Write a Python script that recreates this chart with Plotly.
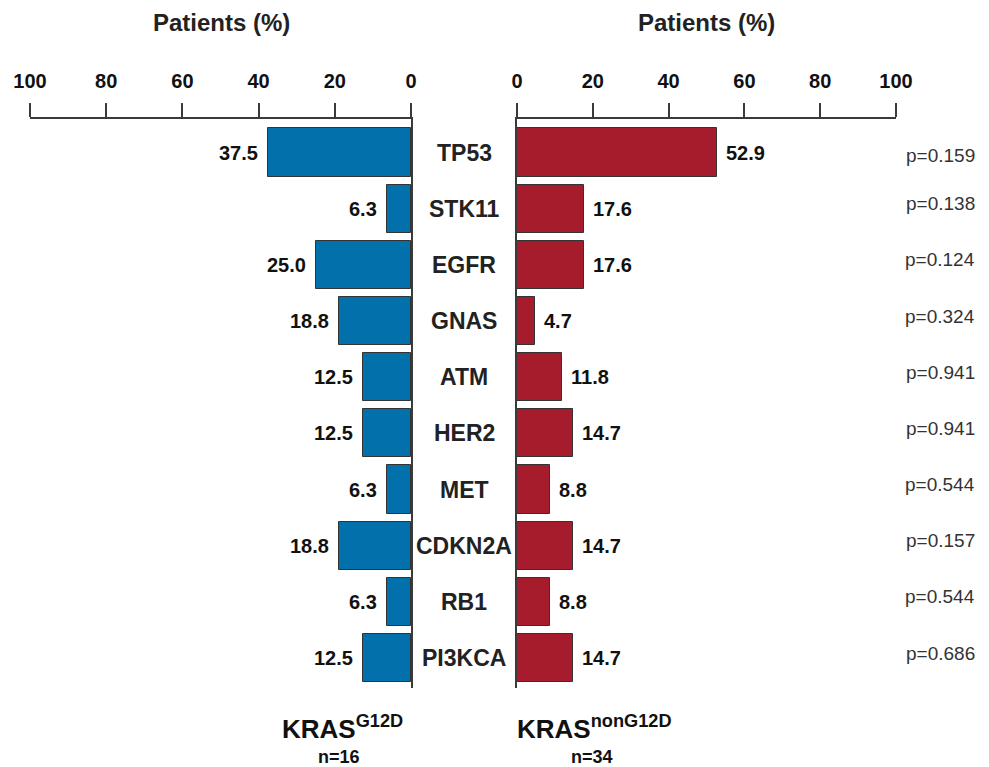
import plotly.graph_objects as go

genes = ["TP53", "STK11", "EGFR", "GNAS", "ATM", "HER2", "MET", "CDKN2A", "RB1", "PI3KCA"]
g12d = [37.5, 6.3, 25.0, 18.8, 12.5, 12.5, 6.3, 18.8, 6.3, 12.5]
non_g12d = [52.9, 17.6, 17.6, 4.7, 11.8, 14.7, 8.8, 14.7, 8.8, 14.7]
p_values = ["p=0.159", "p=0.138", "p=0.124", "p=0.324", "p=0.941", "p=0.941", "p=0.544", "p=0.157", "p=0.544", "p=0.686"]
tick_vals = [0, 20, 40, 60, 80, 100]

W, H = 989, 767
FONT = "Liberation Sans, Arial, sans-serif"
BLUE = "#0271AB"
RED = "#A61C2C"
LINE = "#3a3a3a"

ypos = list(range(len(genes)))

fig = go.Figure()
fig.add_trace(go.Bar(y=ypos, x=g12d, orientation="h", xaxis="x", yaxis="y",
                     marker=dict(color=BLUE, line=dict(color="#333333", width=1)),
                     width=0.86, showlegend=False, hoverinfo="x"))
fig.add_trace(go.Bar(y=ypos, x=non_g12d, orientation="h", xaxis="x2", yaxis="y2",
                     marker=dict(color=RED, line=dict(color="#333333", width=1)),
                     width=0.86, showlegend=False, hoverinfo="x"))

def px_x(p):
    return p / W

def px_y(p):
    return 1 - p / H

top, bottom = 119, 688
pitch = (658 - 152.5) / 9
top_val = -((152.5 - top) / pitch)
bot_val = (bottom - 152.5) / pitch
yrange = [bot_val, top_val]

axis_common = dict(showgrid=False, zeroline=False, showline=True, linecolor=LINE, linewidth=1.5,
                   ticks="outside", ticklen=14, tickwidth=1.5, tickcolor=LINE, side="top",
                   tickvals=tick_vals, ticklabelstandoff=7, automargin=False,
                   tickfont=dict(family=FONT, size=20, color="#111111", weight="bold"))

fig.update_layout(
    width=W, height=H, margin=dict(l=0, r=0, t=0, b=0, pad=0, autoexpand=False),
    plot_bgcolor="white", paper_bgcolor="white", bargap=0,
    xaxis=dict(domain=[px_x(30), px_x(411)], range=[100, 0], anchor="y", **axis_common),
    xaxis2=dict(domain=[px_x(517), px_x(896)], range=[0, 100], anchor="y2", **axis_common),
    yaxis=dict(domain=[px_y(bottom), px_y(top)], range=yrange, anchor="x", side="right",
               showline=True, linecolor=LINE, linewidth=1.5, showticklabels=False, ticks="",
               showgrid=False, zeroline=False, automargin=False),
    yaxis2=dict(domain=[px_y(bottom), px_y(top)], range=yrange, anchor="x2", side="left",
                showline=True, linecolor=LINE, linewidth=1.5, showticklabels=False, ticks="",
                showgrid=False, zeroline=False, automargin=False),
)

ann = []
for i, g in enumerate(genes):
    ann.append(dict(x=px_x(464), xref="paper", y=i, yref="y", text=f"<b>{g}</b>", showarrow=False,
                    font=dict(family=FONT, size=23, color="#222222"), xanchor="center", yanchor="middle"))
    ann.append(dict(x=g12d[i], xref="x", y=i, yref="y", text=f"<b>{g12d[i]:.1f}</b>", showarrow=False,
                    font=dict(family=FONT, size=20, color="#111111"), xanchor="right", yanchor="middle", xshift=-8))
    ann.append(dict(x=non_g12d[i], xref="x2", y=i, yref="y2", text=f"<b>{non_g12d[i]:.1f}</b>", showarrow=False,
                    font=dict(family=FONT, size=20, color="#111111"), xanchor="left", yanchor="middle", xshift=7))
    ann.append(dict(x=px_x(940), xref="paper", y=i, yref="y", text=p_values[i], showarrow=False,
                    font=dict(family=FONT, size=19, color="#333333"), xanchor="center", yanchor="middle",
                    yshift=5 if i > 0 else -3))

for cx in (221, 706):
    ann.append(dict(x=px_x(cx), xref="paper", y=px_y(23), yref="paper", text="<b>Patients (%)</b>",
                    showarrow=False, font=dict(family=FONT, size=24, color="#222222"),
                    xanchor="center", yanchor="middle"))

ann.append(dict(x=px_x(342), xref="paper", y=px_y(727), yref="paper", text="<b>KRAS<sup>G12D</sup></b>",
                showarrow=False, font=dict(family=FONT, size=26, color="#111111"), xanchor="center", yanchor="middle"))
ann.append(dict(x=px_x(339), xref="paper", y=px_y(757), yref="paper", text="<b>n=16</b>",
                showarrow=False, font=dict(family=FONT, size=18, color="#111111"), xanchor="center", yanchor="middle"))
ann.append(dict(x=px_x(594), xref="paper", y=px_y(727), yref="paper", text="<b>KRAS<sup>nonG12D</sup></b>",
                showarrow=False, font=dict(family=FONT, size=26, color="#111111"), xanchor="center", yanchor="middle"))
ann.append(dict(x=px_x(592), xref="paper", y=px_y(757), yref="paper", text="<b>n=34</b>",
                showarrow=False, font=dict(family=FONT, size=18, color="#111111"), xanchor="center", yanchor="middle"))

fig.update_layout(annotations=ann)
fig.write_html("out.html", config={"displayModeBar": False},
               post_script="document.body.style.margin='0';document.body.style.overflow='hidden';")
